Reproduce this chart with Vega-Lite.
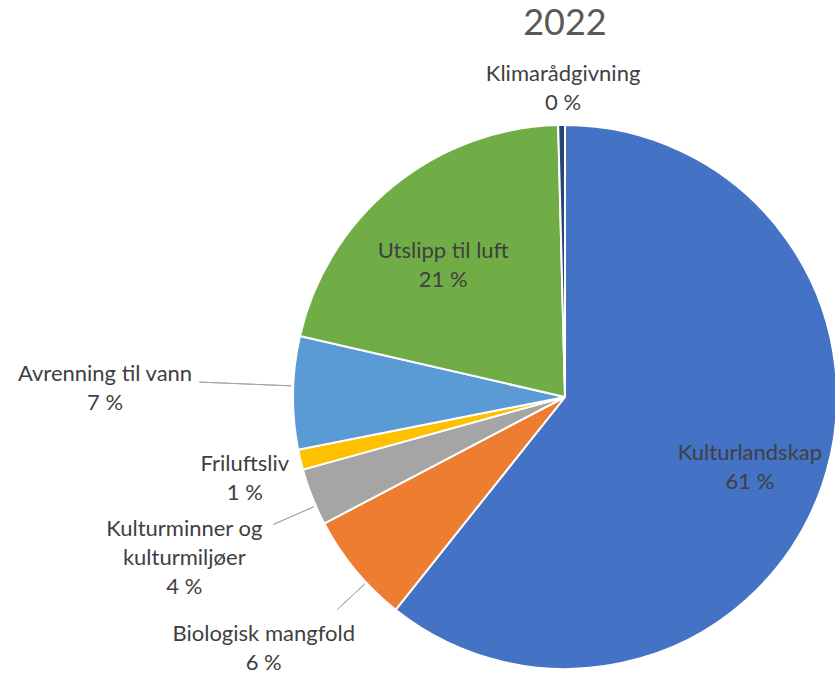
{
  "$schema": "https://vega.github.io/schema/vega-lite/v6.json",
  "autosize": {"type": "none"},
  "width": 540,
  "height": 540,
  "padding": {"left": 295, "top": 127, "right": 0, "bottom": 7},
  "background": "white",
  "title": {"text": "2022", "fontSize": 36, "font": "Lato", "fontWeight": "normal", "color": "#595959", "anchor": "middle", "offset": 20},
  "config": {"view": {"stroke": null}, "text": {"font": "Lato", "fontSize": 22, "color": "#404040", "lineBreak": "\n", "lineHeight": 29}},
  "data": {"values": [
    {"idx": 1, "category": "Kulturlandskap", "value": 60.7, "label": "Kulturlandskap\n61 %"},
    {"idx": 2, "category": "Biologisk mangfold", "value": 6.6, "label": "Biologisk mangfold\n6 %"},
    {"idx": 3, "category": "Kulturminner og kulturmiljøer", "value": 3.4, "label": "Kulturminner og\nkulturmiljøer\n4 %"},
    {"idx": 4, "category": "Friluftsliv", "value": 1.2, "label": "Friluftsliv\n1 %"},
    {"idx": 5, "category": "Avrenning til vann", "value": 6.7, "label": "Avrenning til vann\n7 %"},
    {"idx": 6, "category": "Utslipp til luft", "value": 21.0, "label": "Utslipp til luft\n21 %"},
    {"idx": 7, "category": "Klimarådgivning", "value": 0.4, "label": "Klimarådgivning\n0 %"}
  ]},
  "transform": [
    {"stack": "value", "groupby": [], "sort": [{"field": "idx", "order": "ascending"}], "as": ["v0", "v1"]},
    {"calculate": "(datum.v0 + datum.v1) / 2", "as": "vm"},
    {"calculate": "datum.vm + 0.001", "as": "vm2"}
  ],
  "layer": [
    {
      "mark": {"type": "arc", "radius": 272, "stroke": "white", "strokeWidth": 2},
      "encoding": {
        "theta": {"field": "v0", "type": "quantitative", "stack": null, "scale": {"domain": [0, 100]}},
        "theta2": {"field": "v1"},
        "color": {"field": "category", "type": "nominal", "legend": null,
          "scale": {"domain": ["Kulturlandskap", "Biologisk mangfold", "Kulturminner og kulturmiljøer", "Friluftsliv", "Avrenning til vann", "Utslipp til luft", "Klimarådgivning"],
                    "range": ["#4472C4", "#ED7D31", "#A5A5A5", "#FFC000", "#5B9BD5", "#70AD47", "#264478"]}}
      }
    },
    {
      "transform": [{"filter": "datum.category == 'Avrenning til vann'"}],
      "mark": {"type": "arc", "radius": 366, "radius2": 274, "fill": null, "stroke": "#A6A6A6", "strokeWidth": 1, "thetaOffset": 0.025, "theta2Offset": 0.025},
      "encoding": {"theta": {"field": "vm", "type": "quantitative", "stack": null, "scale": {"domain": [0, 100]}}, "theta2": {"field": "vm2"}}
    },
    {
      "transform": [{"filter": "datum.category == 'Kulturminner og kulturmiljøer'"}],
      "mark": {"type": "arc", "radius": 318, "radius2": 274, "fill": null, "stroke": "#A6A6A6", "strokeWidth": 1, "thetaOffset": -0.035, "theta2Offset": -0.035},
      "encoding": {"theta": {"field": "vm", "type": "quantitative", "stack": null, "scale": {"domain": [0, 100]}}, "theta2": {"field": "vm2"}}
    },
    {
      "transform": [{"filter": "datum.category == 'Biologisk mangfold'"}],
      "mark": {"type": "arc", "radius": 312, "radius2": 274, "fill": null, "stroke": "#A6A6A6", "strokeWidth": 1, "thetaOffset": -0.06, "theta2Offset": -0.06},
      "encoding": {"theta": {"field": "vm", "type": "quantitative", "stack": null, "scale": {"domain": [0, 100]}}, "theta2": {"field": "vm2"}}
    },
    {
      "transform": [{"filter": "datum.category == 'Kulturlandskap'"}],
      "mark": {"type": "text", "radius": 180, "align": "center", "baseline": "middle", "dx": 15, "dy": -3},
      "encoding": {"theta": {"field": "vm", "type": "quantitative", "stack": null, "scale": {"domain": [0, 100]}}, "text": {"field": "label"}}
    },
    {
      "transform": [{"filter": "datum.category == 'Utslipp til luft'"}],
      "mark": {"type": "text", "radius": 180, "align": "center", "baseline": "middle", "dx": -8, "dy": -7},
      "encoding": {"theta": {"field": "vm", "type": "quantitative", "stack": null, "scale": {"domain": [0, 100]}}, "text": {"field": "label"}}
    },
    {
      "transform": [{"filter": "datum.category == 'Klimarådgivning'"}],
      "mark": {"type": "text", "radius": 310, "align": "center", "baseline": "middle", "dx": 2, "dy": -13},
      "encoding": {"theta": {"field": "vm", "type": "quantitative", "stack": null, "scale": {"domain": [0, 100]}}, "text": {"field": "label"}}
    },
    {
      "transform": [{"filter": "datum.category == 'Biologisk mangfold'"}],
      "mark": {"type": "text", "radius": 391, "align": "center", "baseline": "middle", "dy": -12},
      "encoding": {"theta": {"field": "vm", "type": "quantitative", "stack": null, "scale": {"domain": [0, 100]}}, "text": {"field": "label"}}
    },
    {
      "transform": [{"filter": "datum.category == 'Kulturminner og kulturmiljøer'"}],
      "mark": {"type": "text", "radius": 417, "align": "center", "baseline": "middle", "dx": 7, "dy": -22},
      "encoding": {"theta": {"field": "vm", "type": "quantitative", "stack": null, "scale": {"domain": [0, 100]}}, "text": {"field": "label"}}
    },
    {
      "transform": [{"filter": "datum.category == 'Friluftsliv'"}],
      "mark": {"type": "text", "radius": 330, "align": "center", "baseline": "middle", "dx": 1, "dy": -9},
      "encoding": {"theta": {"field": "vm", "type": "quantitative", "stack": null, "scale": {"domain": [0, 100]}}, "text": {"field": "label"}}
    },
    {
      "transform": [{"filter": "datum.category == 'Avrenning til vann'"}],
      "mark": {"type": "text", "radius": 460, "align": "center", "baseline": "middle", "dy": -16},
      "encoding": {"theta": {"field": "vm", "type": "quantitative", "stack": null, "scale": {"domain": [0, 100]}}, "text": {"field": "label"}}
    }
  ]
}
